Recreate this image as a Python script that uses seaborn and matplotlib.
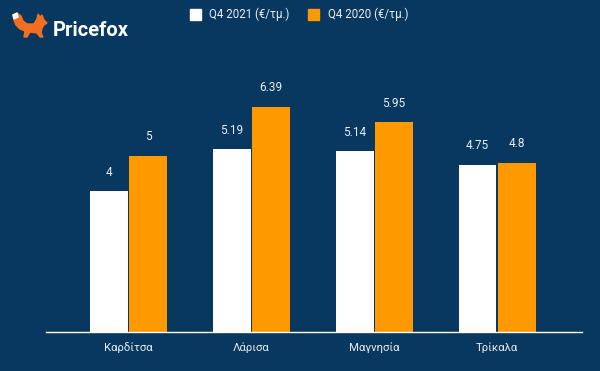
import pandas as pd
import matplotlib.pyplot as plt
import seaborn as sns
from matplotlib.patches import Polygon

BG = "#08375f"
TXT = "#e8edf2"

cities = ["Καρδίτσα", "Λάρισα", "Μαγνησία", "Τρίκαλα"]
series = ["Q4 2021 (€/τμ.)", "Q4 2020 (€/τμ.)"]
q4_2021 = [4, 5.19, 5.14, 4.75]
q4_2020 = [5, 6.39, 5.95, 4.8]
labels_2021 = ["4", "5.19", "5.14", "4.75"]
labels_2020 = ["5", "6.39", "5.95", "4.8"]

df = pd.DataFrame({
    "city": cities * 2,
    "series": [series[0]] * 4 + [series[1]] * 4,
    "value": q4_2021 + q4_2020,
})

sns.set_theme(style="white")
plt.rcParams["font.family"] = ["Roboto", "DejaVu Sans"]

fig = plt.figure(figsize=(6, 3.71), dpi=100, facecolor=BG)
ax = fig.add_axes([0.077, 0.105, 0.893, 0.787])
ax.set_facecolor(BG)

sns.barplot(data=df, x="city", y="value", hue="series",
            palette=["#ffffff", "#ff9900"], width=0.64, gap=0.04,
            legend=False, ax=ax, saturation=1, linewidth=0)

for cont, labs in zip(ax.containers, [labels_2021, labels_2020]):
    ax.bar_label(cont, labels=labs, padding=9, color=TXT, fontsize=8.5)

ax.set_xlim(-0.67, 3.69)
ax.set_ylim(0, 8.29)
ax.set_xlabel("")
ax.set_ylabel("")
ax.set_yticks([])
for s in ["top", "right", "left"]:
    ax.spines[s].set_visible(False)
ax.spines["bottom"].set_color("#ffffff")
ax.spines["bottom"].set_linewidth(1)
ax.tick_params(axis="x", length=0, pad=7.5, colors=TXT, labelsize=8.2)

# legend
fig.patches.append(plt.Rectangle((190 / 600, 1 - 20 / 371), 11 / 600, 11 / 371,
                                 transform=fig.transFigure, color="#ffffff"))
fig.text(209 / 600, 1 - 14.5 / 371, series[0], color=TXT, fontsize=8.3, va="center")
fig.patches.append(plt.Rectangle((308 / 600, 1 - 20 / 371), 11 / 600, 11 / 371,
                                 transform=fig.transFigure, color="#ff9900"))
fig.text(328 / 600, 1 - 14.5 / 371, series[1], color=TXT, fontsize=8.3, va="center")

# logo
fox = [(13, 15), (17, 13), (21, 16), (23, 21), (27, 24), (34, 24), (37, 19),
       (38, 14), (40, 17), (42, 15), (44, 20), (47, 23), (44, 25), (42, 28),
       (41, 33), (43, 37), (40, 37), (37, 33), (30, 32), (27, 37), (24, 37),
       (25, 31), (20, 29), (16, 25), (14, 20)]
tip = [(13, 15), (17, 13), (18, 17), (14, 19)]
fig.patches.append(Polygon([(x / 600, 1 - y / 371) for x, y in fox], closed=True,
                           transform=fig.transFigure, color="#f26f21"))
fig.patches.append(Polygon([(x / 600, 1 - y / 371) for x, y in tip], closed=True,
                           transform=fig.transFigure, color="#ffffff"))
fig.text(53 / 600, 1 - 30 / 371, "Pricefox", color="#ffffff", fontsize=14.5,
         fontweight="bold", va="center")

fig.savefig("out.png", dpi=100, facecolor=BG)
